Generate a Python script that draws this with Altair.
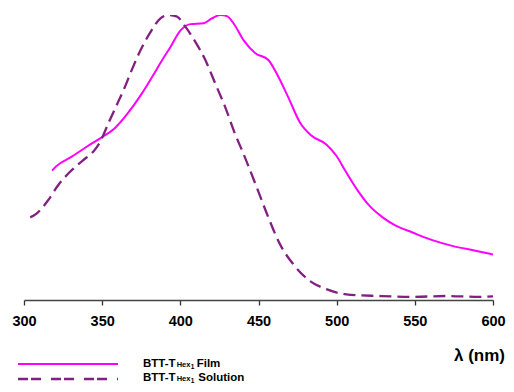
import altair as alt
import pandas as pd

# Film spectrum (normalized)
film_wl = [318, 320.5, 330, 339.6, 349.2, 357.7, 366.2, 374.6, 382, 388.4, 393.7, 400,
           406.4, 415, 420.2, 425.5, 429.8, 434, 440.4, 448, 456.3, 461.6, 469, 476.4,
           483.8, 493.4, 499.7, 506.1, 513.5, 520.9, 529.4, 537.8, 548.5, 561.2, 573.9,
           588.8, 600]
film_val = [0.454, 0.469, 0.501, 0.536, 0.569, 0.601, 0.654, 0.718, 0.783, 0.842, 0.888,
            0.945, 0.968, 0.971, 0.988, 1.0, 0.996, 0.971, 0.912, 0.866, 0.842, 0.795,
            0.712, 0.624, 0.577, 0.546, 0.507, 0.448, 0.384, 0.331, 0.290, 0.261, 0.237,
            0.210, 0.190, 0.173, 0.160]

# Solution spectrum (normalized)
sol_wl = [304, 307.8, 315.3, 321.6, 329.1, 337.5, 345, 349.2, 353.4, 358.7, 364.1, 369.3,
          374.6, 381, 387.3, 392.7, 398, 403.2, 409.6, 416, 422.3, 428.7, 435, 440.4,
          448.9, 456.3, 463.7, 472.2, 482.8, 493.4, 506.1, 527.3, 548.5, 569.7, 590.9, 600]
sol_val = [0.290, 0.302, 0.349, 0.401, 0.448, 0.489, 0.525, 0.560, 0.613, 0.677, 0.742,
           0.812, 0.877, 0.941, 0.988, 1.0, 0.994, 0.959, 0.906, 0.842, 0.760, 0.677,
           0.583, 0.513, 0.395, 0.290, 0.196, 0.126, 0.067, 0.038, 0.020, 0.014, 0.011,
           0.014, 0.011, 0.013]

x_ticks = [300, 350, 400, 450, 500, 550, 600]

FILM_COLOR = "#FF00FF"
SOL_COLOR = "#822082"
FONT = "Liberation Sans"

film_df = pd.DataFrame({"wl": film_wl, "v": film_val})
sol_df = pd.DataFrame({"wl": sol_wl, "v": sol_val})

xscale = alt.Scale(domain=[300, 600], nice=False, zero=False)
yscale = alt.Scale(domain=[0, 1], nice=False, zero=False)

xaxis = alt.Axis(values=x_ticks, title=None, grid=False, labelFont=FONT, labelFontSize=14.5,
                 labelFontWeight="bold", labelColor="#000", tickColor="#333", domainColor="#444",
                 tickSize=5, labelPadding=9, domainWidth=1.3, tickWidth=1.3, labelFlush=False,
                 labelOverlap=False)

film = alt.Chart(film_df).mark_line(color=FILM_COLOR, strokeWidth=2, interpolate="monotone", clip=True).encode(
    x=alt.X("wl:Q", scale=xscale, axis=xaxis),
    y=alt.Y("v:Q", scale=yscale, axis=None),
)
sol = alt.Chart(sol_df).mark_line(color=SOL_COLOR, strokeWidth=2.3, strokeDash=[12, 6],
                                  interpolate="monotone", clip=True).encode(
    x=alt.X("wl:Q", scale=xscale, axis=xaxis),
    y=alt.Y("v:Q", scale=yscale, axis=None),
)

base = alt.Chart(pd.DataFrame({"a": [0]}))

def txt(s, x, y, size, align="left"):
    return base.mark_text(text=s, font=FONT, fontWeight="bold", fontSize=size, align=align,
                          baseline="alphabetic", color="#000").encode(x=alt.value(x), y=alt.value(y))

lam = txt("λ (nm)", 481, 346, 17, align="right")

leg_film_line = base.mark_rule(color=FILM_COLOR, strokeWidth=2).encode(
    x=alt.value(-6), x2=alt.value(94), y=alt.value(349))
leg_sol_line = base.mark_rule(color=SOL_COLOR, strokeWidth=2.3, strokeDash=[10, 3, 10, 10]).encode(
    x=alt.value(-6), x2=alt.value(94), y=alt.value(364))

legend_parts = [
    txt("BTT-T", 119, 352, 11.5), txt("Hex", 152.7, 352, 7.5), txt("1", 166.7, 353.5, 6.5),
    txt("Film", 172.7, 352, 11.5),
    txt("BTT-T", 119, 366, 11.5), txt("Hex", 152.7, 366, 7.5), txt("1", 166.7, 367.5, 6.5),
    txt("Solution", 174.3, 366, 11.5),
]

chart = alt.layer(film, sol, lam, leg_film_line, leg_sol_line, *legend_parts).properties(
    width=469, height=285,
    autosize=alt.AutoSizeParams(type="none"),
    padding={"left": 16, "top": 7, "right": 13, "bottom": 84},
).configure_view(stroke=None)

chart.save("out.html", embed_options={"renderer": "svg", "actions": False})
